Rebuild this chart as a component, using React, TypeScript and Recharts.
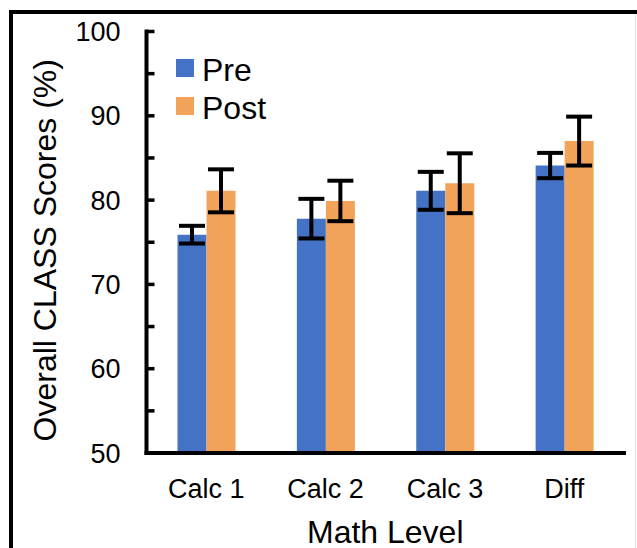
import { Bar, BarChart, ErrorBar, Label, Legend, XAxis, YAxis } from 'recharts';

const levels = ['Calc 1', 'Calc 2', 'Calc 3', 'Diff'];
const preScores = [75.9, 77.8, 81.1, 84.1];
const preErrors = [1.05, 2.35, 2.25, 1.5];
const postScores = [81.1, 79.9, 82.0, 87.0];
const postErrors = [2.55, 2.4, 3.55, 2.9];
const yTicks = [50, 55, 60, 65, 70, 75, 80, 85, 90, 95, 100];
const seriesOrder = ['Pre', 'Post'];

const FONT = "'Liberation Sans', Arial, sans-serif";
const BLUE = '#4472C4';
const ORANGE = '#F2A35A';
const FRAME = { stroke: '#000', strokeWidth: 4, strokeLinecap: 'square' as const };

const rows = levels.map((level, i) => ({
  level,
  Pre: preScores[i],
  preErr: preErrors[i],
  Post: postScores[i],
  postErr: postErrors[i],
}));

function LegendBox({ payload }: any) {
  const items = [...(payload ?? [])].sort(
    (a: any, b: any) => seriesOrder.indexOf(a.value) - seriesOrder.indexOf(b.value),
  );
  return (
    <div>
      {items.map((item: any) => (
        <div
          key={item.value}
          style={{ display: 'flex', alignItems: 'center', height: 38, fontSize: 32, lineHeight: '38px' }}
        >
          <span style={{ width: 18, height: 18, background: item.color, marginRight: 8, display: 'inline-block' }} />
          <span style={{ position: 'relative', top: 2, color: '#000' }}>{item.value}</span>
        </div>
      ))}
    </div>
  );
}

// y tick: short inward mark on the axis + label only on the tens
function YTick({ x, y, payload }: any) {
  const axisX = x + 26;
  const v = payload.value;
  return (
    <g>
      <line x1={axisX} x2={axisX + 8} y1={y} y2={y} stroke="#000" strokeWidth={3.5} />
      {v % 10 === 0 && (
        <text x={x} y={y + 9.5} textAnchor="end" fontSize={27} fill="#000">
          {v}
        </text>
      )}
    </g>
  );
}

function YTitle({ viewBox }: any) {
  const x = viewBox.x + 56;
  const y = viewBox.y + viewBox.height / 2 + 8;
  return (
    <text x={x} y={y} transform={`rotate(-90 ${x} ${y})`} textAnchor="middle" fontSize={32} fill="#000">
      Overall CLASS Scores (%)
    </text>
  );
}

function XTitle({ viewBox }: any) {
  return (
    <text x={viewBox.x + viewBox.width / 2} y={viewBox.y + 90} textAnchor="middle" fontSize={32} fill="#000">
      Math Level
    </text>
  );
}

export default function App() {
  return (
    <div
      style={{
        position: 'absolute',
        left: 0,
        top: 0,
        width: 637,
        height: 548,
        background: '#fff',
        overflow: 'hidden',
        fontFamily: FONT,
      }}
    >
      {/* outer frame: left + top edges only, faint line on the right */}
      <div style={{ position: 'absolute', left: 9, top: 10, width: 640, height: 560, borderLeft: '4px solid #000', borderTop: '4px solid #000' }} />
      <div style={{ position: 'absolute', left: 635, top: 14, width: 1, height: 540, background: '#e0e0e0' }} />

      <div style={{ position: 'absolute', left: 0, top: 0 }}>
        <BarChart
          width={637}
          height={548}
          data={rows}
          margin={{ top: 31.5, right: 13, bottom: 0, left: 0 }}
          barGap={0}
          barSize={29}
        >
          <XAxis
            dataKey="level"
            height={95}
            axisLine={FRAME}
            tickLine={false}
            tickSize={0}
            tickMargin={26}
            tick={{ fill: '#000', fontSize: 27 }}
          >
            <Label content={<XTitle />} />
          </XAxis>
          <XAxis xAxisId="top" dataKey="level" orientation="top" height={0} axisLine={FRAME} tick={false} tickLine={false} />
          <YAxis
            type="number"
            domain={[50, 100]}
            ticks={yTicks}
            interval={0}
            width={146.5}
            axisLine={FRAME}
            tickLine={false}
            tickSize={0}
            tickMargin={26}
            tick={<YTick />}
          >
            <Label content={<YTitle />} />
          </YAxis>
          <YAxis
            yAxisId="right"
            orientation="right"
            type="number"
            domain={[50, 100]}
            width={0}
            axisLine={FRAME}
            tick={false}
            tickLine={false}
          />
          <Legend
            layout="vertical"
            align="center"
            verticalAlign="middle"
            wrapperStyle={{ left: 176, top: 49, width: 120, height: 80 }}
            content={<LegendBox />}
          />
          <Bar dataKey="Pre" name="Pre" fill={BLUE} isAnimationActive={false}>
            <ErrorBar dataKey="preErr" width={13} strokeWidth={4} stroke="#000" direction="y" />
          </Bar>
          <Bar dataKey="Post" name="Post" fill={ORANGE} isAnimationActive={false}>
            <ErrorBar dataKey="postErr" width={13} strokeWidth={4} stroke="#000" direction="y" />
          </Bar>
        </BarChart>
      </div>
    </div>
  );
}
